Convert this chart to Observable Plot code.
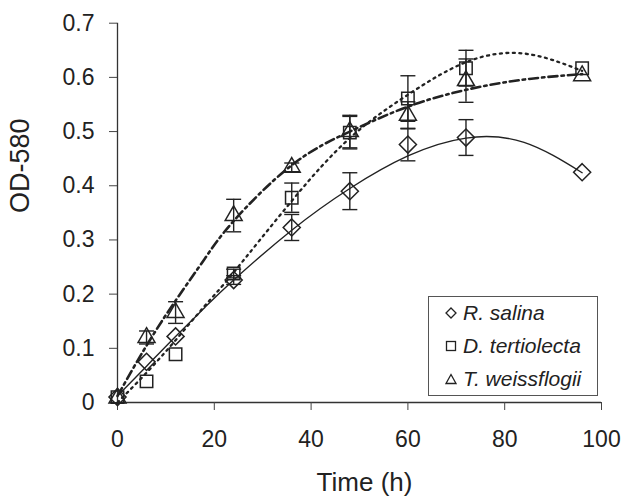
<!DOCTYPE html>
<html><head><meta charset="utf-8">
<script src="https://cdn.jsdelivr.net/npm/d3@7"></script>
<script src="https://cdn.jsdelivr.net/npm/@observablehq/plot@0.6"></script>
<style>
body{margin:0;background:#fff;font-family:"Liberation Sans",Arial,Helvetica,sans-serif;}
#wrap{position:relative;width:625px;height:497px;}
#legend{position:absolute;left:428px;top:296px;width:170px;height:100px;border:1px solid #555;background:#fff;box-sizing:border-box;}
.item{position:absolute;left:16px;height:24px;display:flex;align-items:center;font-style:italic;font-size:21px;color:#222;white-space:nowrap;}
.item svg{margin-right:6px;}
</style></head><body><div id="wrap"></div>
<script>
// ---- data ----
const times = [0, 6, 12, 24, 36, 48, 60, 72, 96];
const salina = [0.01, 0.075, 0.122, 0.226, 0.323, 0.39, 0.476, 0.489, 0.425];
const salinaErr = [0, 0, 0, 0.008, 0.024, 0.034, 0.03, 0.033, 0];
const tertiolecta = [0.01, 0.039, 0.089, 0.238, 0.378, 0.498, 0.561, 0.617, 0.617];
const tertiolectaErr = [0, 0, 0, 0.008, 0.027, 0.03, 0.042, 0.033, 0];
const weissflogii = [0.008, 0.12, 0.166, 0.345, 0.434, 0.5, 0.53, 0.594, 0.603];
const weissflogiiErr = [0, 0.012, 0.02, 0.03, 0.008, 0.03, 0.025, 0.04, 0];

// trend-line points
const fitTimes = [0, 6, 12, 18, 24, 36, 48, 60, 72, 84, 96];
const salinaFit = [0.012, 0.067, 0.122, 0.175, 0.226, 0.318, 0.395, 0.455, 0.488, 0.48, 0.424];
const tertiolectaFit = [0.0, 0.055, 0.115, 0.178, 0.24, 0.372, 0.488, 0.568, 0.628, 0.644, 0.612];
const weissflogiiFit = [0.012, 0.105, 0.188, 0.265, 0.335, 0.438, 0.5, 0.546, 0.577, 0.596, 0.606];

const seriesNames = ["R. salina", "D. tertiolecta", "T. weissflogii"];
const xTicks = [0, 20, 40, 60, 80, 100];
const yTicks = [0, 0.1, 0.2, 0.3, 0.4, 0.5, 0.6, 0.7];

// ---- build tables ----
const symbols = {"R. salina": "diamond2", "D. tertiolecta": "square2", "T. weissflogii": "triangle2"};
const radii = {"R. salina": 7.7, "D. tertiolecta": 7.9, "T. weissflogii": 8.1};
const obs = [];
[[seriesNames[0], salina, salinaErr], [seriesNames[1], tertiolecta, tertiolectaErr], [seriesNames[2], weissflogii, weissflogiiErr]]
  .forEach(([s, vals, errs]) => times.forEach((t, i) => obs.push({series: s, t, v: vals[i], e: errs[i]})));
const fits = {};
[[seriesNames[0], salinaFit], [seriesNames[1], tertiolectaFit], [seriesNames[2], weissflogiiFit]]
  .forEach(([s, vals]) => fits[s] = fitTimes.map((t, i) => ({t, v: vals[i]})));
const errs = obs.filter(d => d.e > 0);

const cap = {draw(ctx) { ctx.moveTo(-7.5, 0); ctx.lineTo(7.5, 0); }};
const ink = "#222";

const chart = Plot.plot({
  width: 625, height: 497,
  marginLeft: 117, marginRight: 24, marginTop: 22.7, marginBottom: 95,
  style: {fontFamily: "'Liberation Sans', Arial, sans-serif", color: ink, background: "white"},
  x: {domain: [0, 100]},
  y: {domain: [0, 0.7]},
  marks: [
    Plot.ruleY([0], {stroke: "#333", strokeWidth: 1.3}),
    Plot.ruleX([0], {stroke: "#333", strokeWidth: 1.3}),
    Plot.axisX({ticks: xTicks, tickSize: 8, tickPadding: 20, fontSize: 23, label: null, stroke: "#444"}),
    Plot.axisY({ticks: yTicks, tickSize: 8, tickPadding: 15, fontSize: 23, label: null, stroke: "#444",
      tickFormat: d => d === 0 ? "0" : d.toFixed(1)}),
    Plot.text(["Time (h)"], {frameAnchor: "bottom", textAnchor: "middle", dy: 88, dx: 5, fontSize: 26, fill: ink}),
    Plot.text(["OD-580"], {frameAnchor: "left", textAnchor: "middle", lineAnchor: "middle", rotate: -90, dx: -97, dy: -47, fontSize: 27, fill: ink}),
    // error bars
    Plot.ruleX(errs, {x: "t", y1: d => d.v - d.e, y2: d => d.v + d.e, stroke: ink, strokeWidth: 1.4}),
    Plot.dot(errs, {x: "t", y: d => d.v + d.e, symbol: cap, r: 5, fill: "none", stroke: ink, strokeWidth: 1.4}),
    Plot.dot(errs, {x: "t", y: d => d.v - d.e, symbol: cap, r: 5, fill: "none", stroke: ink, strokeWidth: 1.4}),
    // trend lines
    Plot.line(fits["R. salina"], {x: "t", y: "v", curve: "natural", stroke: ink, strokeWidth: 1.4}),
    Plot.line(fits["D. tertiolecta"], {x: "t", y: "v", curve: "natural", stroke: ink, strokeWidth: 2.3, strokeDasharray: "2,4.5"}),
    Plot.line(fits["T. weissflogii"], {x: "t", y: "v", curve: "natural", stroke: ink, strokeWidth: 2.6, strokeDasharray: "9,4,2.5,4"}),
    // points
    ...seriesNames.map(s => Plot.dot(obs.filter(d => d.series === s), {
      x: "t", y: "v", symbol: symbols[s], r: radii[s], fill: "none", stroke: ink, strokeWidth: 1.5
    }))
  ]
});

const wrap = document.getElementById("wrap");
wrap.appendChild(chart);

// legend
const legend = document.createElement("div");
legend.id = "legend";
const legendSym = {
  "R. salina": '<polygon points="6,1 11,6 6,11 1,6" fill="none" stroke="#222" stroke-width="1.3"/>',
  "D. tertiolecta": '<rect x="1.5" y="1.5" width="9" height="9" fill="none" stroke="#222" stroke-width="1.3"/>',
  "T. weissflogii": '<polygon points="6,1.5 11,10.5 1,10.5" fill="none" stroke="#222" stroke-width="1.3"/>'
};
seriesNames.forEach((s, i) => {
  const it = document.createElement("div");
  it.className = "item";
  it.style.top = (4 + i * 33) + "px";
  it.innerHTML = `<svg width="12" height="12" viewBox="0 0 12 12">${legendSym[s]}</svg><span>${s}</span>`;
  legend.appendChild(it);
});
wrap.appendChild(legend);
</script>
</body></html>
